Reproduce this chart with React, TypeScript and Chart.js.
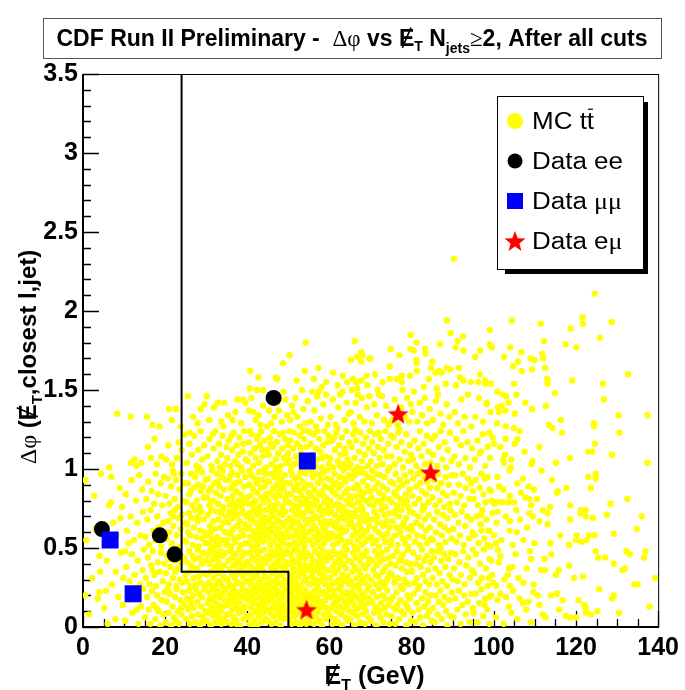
import React, { useEffect, useRef } from "react";
import { Chart, registerables } from "chart.js";

Chart.register(...registerables);

type Pt = [number, number];

// Simulated ttbar events: [missing ET (GeV), delta-phi], grouped in 10 GeV slices
const mcMet0to10: Pt[] = [
  [0.8,0.55],[0.6,0.93],[0.5,0.2],[1.5,0.08],[2.2,0.31],[3.1,0.62],[3.6,0.18],[4.0,0.45],[4.4,0.97],[2.7,0.83],[4.2,0.35],[4.0,0.22],
  [5.2,0.12],[5.8,0.42],[6.0,0.02],[6.3,0.57],[6.4,1.01],[6.8,0.79],[7.1,0.27],[7.4,0.66],[7.9,0.05],[8.0,0.35],[8.2,0.58],[8.3,1.35],
  [8.6,0.19],[8.9,0.88],[9.2,0.47],[9.5,0.76],[9.7,0.14],[9.8,0.31],[5.6,0.23],[7.7,0.52],[6.9,0.95],[9.1,0.69],[6.3,0.77]
];
const mcMet10to20: Pt[] = [
  [10.3,0.04],[11.2,0.17],[12.0,0.09],[12.8,0.22],[13.5,0.02],[14.1,0.13],[14.7,0.24],[10.9,0.2],[13.1,0.11],
  [10.5,0.38],[11.4,0.29],[11.9,0.46],[12.6,0.33],[13.3,0.42],[13.9,0.27],[14.5,0.36],[10.2,0.48],[14.8,0.49],
  [10.7,0.61],[11.6,0.7],[12.4,0.55],[13.2,0.66],[14.0,0.58],[14.6,0.73],[11.1,0.53],
  [10.4,0.84],[11.8,0.93],[12.9,0.8],[13.7,0.96],[14.4,0.87],
  [11.7,1.04],[12.5,1.06],[13.0,1.02],[14.2,1.04],[11.6,1.33],
  [15.1,0.06],[15.6,0.19],[16.0,0.11],[16.4,0.02],[16.8,0.23],[17.2,0.14],[17.6,0.05],[18.0,0.2],[18.4,0.1],[18.8,0.01],[19.2,0.17],[19.6,0.08],[19.9,0.22],[17.9,0.12],
  [15.3,0.31],[15.8,0.44],[16.2,0.27],[16.6,0.39],[17.0,0.48],[17.4,0.33],[17.8,0.26],[18.2,0.41],[18.6,0.35],[19.0,0.47],[19.4,0.29],[19.8,0.4],[16.9,0.36],
  [15.2,0.57],[15.7,0.68],[16.1,0.52],[16.5,0.74],[17.1,0.61],[17.5,0.55],[18.1,0.7],[18.5,0.63],[19.1,0.51],[19.5,0.66],[19.9,0.59],
  [15.4,0.81],[15.9,0.92],[16.7,0.86],[17.3,0.78],[17.7,0.97],[18.3,0.84],[18.9,0.91],[19.3,0.77],[19.7,0.95],
  [15.8,1.14],[16.6,1.07],[17.4,1.19],[19.1,1.08],[18.0,1.03],[15.6,1.33],[16.9,1.28],[18.6,1.27]
];
const mcMet20to30: Pt[] = [
  [20.1,0.03],[20.4,0.16],[20.8,0.09],[21.1,0.21],[21.5,0.01],[21.8,0.13],[22.1,0.06],[22.4,0.19],[22.8,0.24],[23.1,0.1],[23.4,0.02],[23.7,0.17],[24.0,0.08],[24.3,0.22],[24.7,0.14],[20.6,0.24],[22.6,0.04],[23.9,0.12],
  [20.2,0.34],[20.5,0.45],[20.9,0.27],[21.3,0.38],[21.6,0.49],[21.9,0.31],[22.3,0.42],[22.7,0.26],[23.0,0.37],[23.3,0.47],[23.6,0.3],[23.9,0.41],[24.2,0.28],[24.6,0.44],[24.9,0.33],[21.0,0.43],[22.5,0.35],
  [20.3,0.56],[20.7,0.67],[21.0,0.6],[21.4,0.72],[21.7,0.53],[22.0,0.64],[22.4,0.74],[22.8,0.58],[23.2,0.69],[23.5,0.51],[23.8,0.62],[24.1,0.71],[24.4,0.55],[24.8,0.66],[21.9,0.7],
  [20.1,0.83],[20.6,0.94],[21.0,0.78],[21.5,0.89],[21.9,0.99],[22.3,0.81],[22.7,0.93],[23.1,0.76],[23.5,0.87],[23.9,0.97],[24.3,0.8],[24.7,0.91],[22.1,0.97],
  [20.2,1.06],[20.8,1.15],[21.7,1.03],[22.9,1.07],[23.3,1.17],[24.0,1.12],[24.6,1.22],[21.0,1.38],[21.6,1.31],[22.6,1.38],[23.8,1.27],
  [25.1,0.05],[25.3,0.18],[25.6,0.11],[25.8,0.23],[26.0,0.02],[26.3,0.14],[26.5,0.07],[26.8,0.2],[27.0,0.12],[27.3,0.03],[27.5,0.24],[27.8,0.16],[28.0,0.08],[28.3,0.21],[28.5,0.01],[28.8,0.13],[29.0,0.19],[29.3,0.06],[29.5,0.24],[29.8,0.1],[26.1,0.17],[28.9,0.03],
  [25.2,0.29],[25.4,0.41],[25.7,0.35],[25.9,0.48],[26.2,0.26],[26.4,0.39],[26.7,0.45],[26.9,0.31],[27.2,0.43],[27.4,0.27],[27.7,0.37],[27.9,0.49],[28.2,0.32],[28.4,0.44],[28.7,0.28],[28.9,0.4],[29.2,0.47],[29.4,0.34],[29.7,0.26],[29.9,0.42],[27.0,0.36],
  [25.1,0.54],[25.4,0.65],[25.8,0.72],[26.1,0.58],[26.4,0.69],[26.7,0.52],[27.0,0.63],[27.3,0.74],[27.6,0.57],[27.9,0.67],[28.2,0.51],[28.5,0.61],[28.8,0.73],[29.1,0.56],[29.4,0.68],[29.7,0.6],[25.6,0.6],[28.0,0.7],[29.9,0.53],
  [25.2,0.79],[25.5,0.91],[25.9,0.84],[26.3,0.97],[26.6,0.77],[27.0,0.88],[27.3,0.95],[27.7,0.8],[28.0,0.9],[28.4,0.76],[28.7,0.86],[29.0,0.98],[29.4,0.82],[29.8,0.93],[26.2,0.86],[27.9,0.99],[29.2,0.89],
  [25.3,1.04],[25.9,1.16],[26.5,1.09],[27.1,1.21],[27.6,1.02],[28.1,1.12],[28.6,1.24],[29.0,1.06],[29.5,1.15],[26.0,1.23],[28.3,1.01],
  [25.5,1.46],[26.8,1.33],[27.9,1.29],[28.6,1.38],[29.6,1.41]
];
const mcMet30to40: Pt[] = [
  [30.1,0.04],[30.3,0.15],[30.5,0.22],[30.7,0.09],[30.9,0.18],[31.1,0.01],[31.3,0.12],[31.5,0.24],[31.7,0.07],[31.9,0.16],[32.1,0.2],[32.3,0.03],[32.5,0.11],[32.7,0.23],[32.9,0.14],[33.1,0.06],[33.3,0.19],[33.5,0.1],[33.7,0.02],[33.9,0.21],[34.1,0.13],[34.3,0.05],[34.5,0.17],[34.7,0.24],[34.9,0.08],[32.0,0.09],
  [30.2,0.33],[30.4,0.46],[30.6,0.28],[30.8,0.4],[31.0,0.49],[31.2,0.35],[31.4,0.26],[31.6,0.43],[31.8,0.31],[32.0,0.47],[32.2,0.38],[32.4,0.27],[32.6,0.44],[32.8,0.34],[33.0,0.41],[33.2,0.29],[33.4,0.48],[33.6,0.36],[33.8,0.26],[34.0,0.45],[34.2,0.32],[34.4,0.39],[34.6,0.47],[34.8,0.3],[33.1,0.37],
  [30.1,0.58],[30.4,0.71],[30.7,0.53],[30.9,0.64],[31.2,0.74],[31.4,0.56],[31.7,0.67],[31.9,0.51],[32.2,0.62],[32.5,0.73],[32.7,0.57],[33.0,0.68],[33.2,0.52],[33.5,0.63],[33.7,0.72],[34.0,0.55],[34.2,0.66],[34.5,0.6],[34.8,0.7],[31.0,0.6],[32.4,0.54],[33.9,0.74],[34.9,0.52],
  [30.2,0.82],[30.5,0.94],[30.8,0.77],[31.1,0.88],[31.4,0.99],[31.7,0.8],[32.0,0.91],[32.3,0.85],[32.6,0.97],[32.9,0.78],[33.2,0.89],[33.5,0.83],[33.8,0.95],[34.1,0.76],[34.4,0.87],[34.7,0.93],[31.2,0.79],[32.8,0.92],[34.0,0.99],[30.6,0.86],
  [30.3,1.08],[30.8,1.19],[31.3,1.02],[31.8,1.13],[32.2,1.24],[32.7,1.05],[33.1,1.16],[33.6,1.09],[34.0,1.21],[34.5,1.03],[34.9,1.14],[31.6,1.22],[33.3,1.01],
  [30.1,1.46],[30.7,1.31],[31.9,1.39],[32.8,1.42],[33.7,1.3],[34.4,1.42],[34.2,1.27],
  [35.1,0.03],[35.3,0.14],[35.5,0.21],[35.7,0.08],[35.9,0.17],[36.1,0.02],[36.3,0.11],[36.5,0.23],[36.7,0.06],[36.9,0.15],[37.1,0.19],[37.3,0.04],[37.5,0.12],[37.7,0.22],[37.9,0.09],[38.1,0.16],[38.3,0.01],[38.5,0.2],[38.7,0.1],[38.9,0.24],[39.1,0.05],[39.3,0.13],[39.5,0.18],[39.7,0.07],[39.9,0.22],[36.0,0.19],[37.6,0.01],[39.0,0.12],
  [35.2,0.3],[35.4,0.42],[35.6,0.27],[35.8,0.37],[36.0,0.48],[36.2,0.33],[36.4,0.44],[36.6,0.26],[36.8,0.39],[37.0,0.31],[37.2,0.46],[37.4,0.35],[37.6,0.28],[37.8,0.42],[38.0,0.49],[38.2,0.34],[38.4,0.4],[38.6,0.27],[38.8,0.45],[39.0,0.32],[39.2,0.38],[39.4,0.47],[39.6,0.29],[39.8,0.41],[35.9,0.26],[37.1,0.4],[38.3,0.36],[39.5,0.34],
  [35.1,0.55],[35.4,0.66],[35.6,0.73],[35.9,0.59],[36.1,0.51],[36.4,0.69],[36.6,0.62],[36.9,0.74],[37.1,0.54],[37.4,0.64],[37.6,0.71],[37.9,0.57],[38.1,0.67],[38.4,0.52],[38.6,0.61],[38.9,0.72],[39.1,0.58],[39.4,0.65],[39.6,0.53],[39.9,0.7],[35.3,0.6],[36.8,0.56],[37.7,0.64],[38.7,0.74],[39.7,0.62],[36.2,0.72],
  [35.2,0.81],[35.5,0.93],[35.7,0.77],[36.0,0.88],[36.3,0.98],[36.5,0.83],[36.8,0.9],[37.1,0.76],[37.3,0.86],[37.6,0.96],[37.9,0.8],[38.1,0.92],[38.4,0.84],[38.7,0.99],[38.9,0.78],[39.2,0.89],[39.5,0.95],[39.8,0.82],[35.9,0.96],[37.0,0.91],[38.2,0.77],[39.3,0.81],[36.6,0.79],
  [35.1,1.07],[35.5,1.18],[35.9,1.02],[36.3,1.12],[36.7,1.23],[37.0,1.05],[37.4,1.15],[37.8,1.09],[38.1,1.2],[38.5,1.01],[38.9,1.11],[39.2,1.24],[39.6,1.06],[36.1,1.21],[37.6,1.03],[39.0,1.16],
  [35.3,1.34],[36.4,1.31],[37.1,1.36],[37.6,1.44],[38.5,1.29],[39.0,1.44],[39.5,1.42]
];
const mcMet40to50: Pt[] = [
  [40.1,0.06],[40.3,0.17],[40.4,0.23],[40.6,0.02],[40.8,0.12],[41.0,0.2],[41.1,0.08],[41.3,0.15],[41.5,0.24],[41.7,0.04],[41.9,0.18],[42.0,0.1],[42.2,0.22],[42.4,0.01],[42.6,0.14],[42.8,0.07],[43.0,0.19],[43.1,0.11],[43.3,0.24],[43.5,0.03],[43.7,0.16],[43.9,0.09],[44.1,0.21],[44.2,0.13],[44.4,0.05],[44.6,0.18],[44.8,0.11],[44.9,0.23],[41.4,0.01],[43.6,0.14],
  [40.2,0.29],[40.3,0.41],[40.5,0.35],[40.7,0.47],[40.9,0.27],[41.0,0.38],[41.2,0.44],[41.4,0.31],[41.6,0.49],[41.8,0.36],[41.9,0.26],[42.1,0.42],[42.3,0.33],[42.5,0.46],[42.7,0.28],[42.9,0.39],[43.0,0.48],[43.2,0.3],[43.4,0.37],[43.6,0.43],[43.8,0.26],[44.0,0.35],[44.1,0.49],[44.3,0.32],[44.5,0.41],[44.7,0.27],[44.9,0.45],[41.1,0.32],[42.6,0.37],[43.9,0.4],
  [40.1,0.53],[40.3,0.64],[40.5,0.72],[40.7,0.57],[40.9,0.68],[41.1,0.51],[41.3,0.61],[41.5,0.74],[41.7,0.55],[41.9,0.66],[42.1,0.59],[42.3,0.71],[42.5,0.52],[42.7,0.63],[42.9,0.73],[43.1,0.56],[43.3,0.67],[43.5,0.6],[43.7,0.7],[43.9,0.54],[44.1,0.65],[44.3,0.74],[44.5,0.58],[44.7,0.69],[44.9,0.62],[41.0,0.69],[42.4,0.56],[43.8,0.63],
  [40.2,0.78],[40.4,0.9],[40.7,0.83],[40.9,0.96],[41.2,0.77],[41.4,0.87],[41.7,0.94],[41.9,0.8],[42.2,0.91],[42.4,0.85],[42.7,0.98],[42.9,0.76],[43.2,0.88],[43.4,0.82],[43.7,0.93],[43.9,0.79],[44.2,0.89],[44.4,0.97],[44.7,0.81],[44.9,0.92],[40.5,0.99],[41.6,0.79],[42.5,0.93],[43.5,0.99],[44.5,0.84],
  [40.1,1.05],[40.4,1.17],[40.8,1.1],[41.1,1.22],[41.4,1.02],[41.8,1.13],[42.1,1.07],[42.4,1.19],[42.8,1.04],[43.1,1.15],[43.4,1.24],[43.8,1.08],[44.1,1.18],[44.5,1.01],[44.8,1.12],[40.6,1.24],[42.6,1.21],[43.6,1.12],
  [40.4,1.37],[41.5,1.36],[42.7,1.34],[43.2,1.28],[44.8,1.27],[41.0,1.45],[43.8,1.4],[42.0,1.31],
  [40.6,1.51],[40.7,1.62],[42.3,1.5],[42.7,1.58],[43.8,1.5],
  [45.1,0.04],[45.2,0.16],[45.4,0.22],[45.6,0.09],[45.8,0.18],[45.9,0.02],[46.1,0.12],[46.3,0.24],[46.5,0.07],[46.7,0.15],[46.8,0.2],[47.0,0.03],[47.2,0.11],[47.4,0.23],[47.6,0.08],[47.7,0.17],[47.9,0.13],[48.1,0.01],[48.3,0.21],[48.5,0.1],[48.6,0.19],[48.8,0.05],[49.0,0.14],[49.2,0.24],[49.4,0.07],[49.5,0.18],[49.7,0.11],[49.9,0.22],[46.0,0.2],[48.2,0.06],
  [45.1,0.31],[45.3,0.43],[45.5,0.27],[45.7,0.38],[45.9,0.48],[46.0,0.34],[46.2,0.45],[46.4,0.29],[46.6,0.4],[46.8,0.26],[47.0,0.36],[47.1,0.47],[47.3,0.32],[47.5,0.42],[47.7,0.28],[47.9,0.39],[48.1,0.49],[48.2,0.33],[48.4,0.44],[48.6,0.26],[48.8,0.37],[49.0,0.46],[49.1,0.3],[49.3,0.41],[49.5,0.35],[49.7,0.48],[49.9,0.28],[46.5,0.35],[47.8,0.45],[49.2,0.38],
  [45.2,0.56],[45.4,0.67],[45.6,0.52],[45.8,0.73],[46.0,0.6],[46.2,0.7],[46.4,0.54],[46.6,0.65],[46.8,0.74],[47.0,0.58],[47.2,0.68],[47.4,0.51],[47.6,0.62],[47.8,0.72],[48.0,0.55],[48.2,0.66],[48.4,0.59],[48.6,0.71],[48.8,0.53],[49.0,0.64],[49.2,0.73],[49.4,0.57],[49.6,0.67],[49.8,0.61],[45.9,0.63],[47.3,0.57],[48.5,0.74],[49.9,0.52],
  [45.1,0.8],[45.3,0.92],[45.6,0.85],[45.8,0.97],[46.1,0.77],[46.3,0.88],[46.6,0.95],[46.8,0.82],[47.1,0.9],[47.3,0.78],[47.6,0.86],[47.8,0.98],[48.1,0.83],[48.3,0.93],[48.6,0.76],[48.8,0.87],[49.1,0.96],[49.3,0.81],[49.6,0.91],[49.8,0.84],[45.5,0.76],[46.9,0.99],[47.5,0.94],[48.4,0.89],[49.4,0.79],[46.4,0.83],
  [45.2,1.09],[45.5,1.2],[45.9,1.03],[46.2,1.14],[46.5,1.24],[46.9,1.06],[47.2,1.17],[47.5,1.1],[47.9,1.22],[48.2,1.02],[48.5,1.13],[48.9,1.07],[49.2,1.19],[49.5,1.04],[49.8,1.15],[45.7,1.16],[47.0,1.01],[48.7,1.23],[49.9,1.1],
  [45.3,1.37],[45.8,1.29],[46.6,1.33],[47.3,1.42],[47.7,1.37],[48.4,1.3],[48.8,1.49],[49.3,1.44],[49.7,1.34],
  [47.0,1.58],[48.7,1.67],[47.2,1.57]
];
const mcMet50to60: Pt[] = [
  [50.1,0.05],[50.3,0.17],[50.4,0.23],[50.6,0.1],[50.8,0.02],[51.0,0.14],[51.1,0.2],[51.3,0.07],[51.5,0.16],[51.7,0.24],[51.9,0.03],[52.0,0.12],[52.2,0.19],[52.4,0.08],[52.6,0.22],[52.8,0.01],[53.0,0.15],[53.1,0.11],[53.3,0.21],[53.5,0.04],[53.7,0.18],[53.9,0.09],[54.1,0.23],[54.2,0.13],[54.4,0.02],[54.6,0.17],[54.8,0.2],[54.9,0.06],[51.6,0.1],[53.4,0.14],
  [50.2,0.28],[50.3,0.4],[50.5,0.46],[50.7,0.33],[50.9,0.26],[51.0,0.43],[51.2,0.37],[51.4,0.49],[51.6,0.3],[51.8,0.41],[51.9,0.27],[52.1,0.35],[52.3,0.47],[52.5,0.32],[52.7,0.44],[52.9,0.38],[53.0,0.26],[53.2,0.45],[53.4,0.34],[53.6,0.48],[53.8,0.29],[54.0,0.39],[54.1,0.43],[54.3,0.31],[54.5,0.47],[54.7,0.36],[54.9,0.27],[51.1,0.3],[52.6,0.4],[53.9,0.35],
  [50.1,0.57],[50.3,0.69],[50.5,0.52],[50.7,0.63],[50.9,0.74],[51.1,0.58],[51.3,0.67],[51.5,0.54],[51.7,0.71],[51.9,0.61],[52.1,0.51],[52.3,0.66],[52.5,0.73],[52.7,0.56],[52.9,0.64],[53.1,0.7],[53.3,0.53],[53.5,0.62],[53.7,0.72],[53.9,0.59],[54.1,0.68],[54.3,0.55],[54.5,0.65],[54.7,0.74],[54.9,0.6],[51.0,0.65],[52.2,0.59],[53.6,0.57],[54.0,0.51],
  [50.2,0.79],[50.4,0.91],[50.7,0.84],[50.9,0.96],[51.2,0.77],[51.4,0.88],[51.7,0.94],[51.9,0.81],[52.2,0.9],[52.4,0.76],[52.7,0.86],[52.9,0.98],[53.2,0.83],[53.4,0.92],[53.7,0.78],[53.9,0.88],[54.2,0.97],[54.4,0.81],[54.7,0.9],[54.9,0.85],[50.6,0.99],[51.8,0.87],[52.5,0.95],[53.0,0.79],[53.6,0.99],[54.5,0.77],
  [50.1,1.06],[50.5,1.18],[50.8,1.02],[51.1,1.13],[51.4,1.23],[51.8,1.08],[52.1,1.16],[52.4,1.04],[52.8,1.21],[53.1,1.1],[53.4,1.01],[53.8,1.19],[54.1,1.07],[54.4,1.14],[54.8,1.24],[50.3,1.24],[51.6,1.03],[52.9,1.14],[53.6,1.24],[54.6,1.02],
  [50.4,1.31],[50.9,1.4],[51.7,1.45],[52.2,1.33],[52.8,1.27],[53.3,1.5],[53.6,1.38],[54.2,1.29],[54.7,1.43],[51.3,1.36],
  [50.3,1.72],[52.0,1.56],[54.0,1.62],[54.2,1.8],
  [55.1,0.03],[55.3,0.15],[55.5,0.21],[55.6,0.08],[55.8,0.18],[56.0,0.11],[56.2,0.02],[56.4,0.23],[56.6,0.13],[56.7,0.06],[56.9,0.19],[57.1,0.1],[57.3,0.24],[57.5,0.04],[57.6,0.16],[57.8,0.12],[58.0,0.21],[58.2,0.01],[58.4,0.14],[58.6,0.08],[58.7,0.22],[58.9,0.17],[59.1,0.05],[59.3,0.12],[59.5,0.2],[59.7,0.09],[59.9,0.24],[57.0,0.16],
  [55.2,0.27],[55.4,0.39],[55.5,0.45],[55.7,0.32],[55.9,0.42],[56.1,0.28],[56.3,0.36],[56.5,0.48],[56.7,0.3],[56.8,0.41],[57.0,0.26],[57.2,0.38],[57.4,0.46],[57.6,0.34],[57.8,0.43],[57.9,0.29],[58.1,0.4],[58.3,0.49],[58.5,0.33],[58.7,0.37],[58.9,0.45],[59.0,0.27],[59.2,0.42],[59.4,0.31],[59.6,0.47],[59.8,0.36],[56.0,0.35],[58.0,0.3],
  [55.1,0.55],[55.3,0.68],[55.5,0.61],[55.7,0.73],[55.9,0.52],[56.1,0.64],[56.3,0.57],[56.5,0.7],[56.7,0.62],[56.9,0.54],[57.1,0.69],[57.3,0.6],[57.5,0.74],[57.7,0.51],[57.9,0.66],[58.1,0.58],[58.3,0.71],[58.5,0.63],[58.7,0.53],[58.9,0.67],[59.1,0.74],[59.3,0.56],[59.5,0.65],[59.7,0.59],[59.9,0.72],[56.0,0.68],[57.6,0.56],[59.0,0.61],
  [55.2,0.78],[55.4,0.9],[55.7,0.83],[55.9,0.95],[56.2,0.77],[56.4,0.87],[56.7,0.97],[56.9,0.8],[57.2,0.91],[57.4,0.84],[57.7,0.76],[57.9,0.93],[58.2,0.86],[58.4,0.98],[58.7,0.79],[58.9,0.89],[59.2,0.82],[59.4,0.94],[59.7,0.77],[59.9,0.88],[55.5,0.99],[56.6,0.8],[57.5,0.96],[58.5,0.83],[59.5,0.99],
  [55.1,1.04],[55.5,1.16],[55.8,1.09],[56.1,1.22],[56.5,1.02],[56.8,1.13],[57.1,1.06],[57.5,1.19],[57.8,1.11],[58.1,1.01],[58.5,1.15],[58.8,1.24],[59.1,1.08],[59.5,1.17],[59.8,1.03],[55.3,1.23],[57.0,1.24],[58.3,1.07],[59.7,1.21],
  [55.4,1.3],[55.8,1.49],[56.3,1.37],[57.0,1.46],[57.4,1.49],[57.9,1.32],[58.5,1.41],[59.2,1.47],[59.6,1.28],[56.7,1.27],
  [57.3,1.64],[59.2,1.55],[58.1,1.52],[56.2,1.57]
];
const mcMet60to70: Pt[] = [
  [60.1,0.07],[60.3,0.19],[60.5,0.12],[60.7,0.02],[60.9,0.23],[61.1,0.15],[61.3,0.05],[61.5,0.2],[61.7,0.1],[61.9,0.17],[62.1,0.03],[62.3,0.24],[62.5,0.13],[62.7,0.08],[62.9,0.18],[63.1,0.01],[63.3,0.21],[63.5,0.11],[63.7,0.16],[63.9,0.06],[64.1,0.22],[64.3,0.14],[64.5,0.04],[64.7,0.19],[64.9,0.1],[62.0,0.13],
  [60.2,0.31],[60.4,0.44],[60.6,0.27],[60.8,0.38],[61.0,0.48],[61.2,0.34],[61.4,0.41],[61.6,0.28],[61.8,0.46],[62.0,0.36],[62.2,0.3],[62.4,0.43],[62.6,0.39],[62.8,0.26],[63.0,0.47],[63.2,0.33],[63.4,0.4],[63.6,0.29],[63.8,0.45],[64.0,0.37],[64.2,0.49],[64.4,0.32],[64.6,0.42],[64.8,0.27],[61.5,0.35],[63.9,0.31],
  [60.1,0.56],[60.3,0.67],[60.5,0.73],[60.7,0.59],[60.9,0.52],[61.1,0.64],[61.3,0.71],[61.5,0.57],[61.7,0.66],[61.9,0.53],[62.1,0.62],[62.3,0.74],[62.5,0.58],[62.7,0.69],[62.9,0.55],[63.1,0.63],[63.3,0.72],[63.5,0.6],[63.7,0.51],[63.9,0.68],[64.1,0.61],[64.3,0.73],[64.5,0.54],[64.7,0.65],[64.9,0.7],[62.0,0.67],
  [60.2,0.8],[60.4,0.93],[60.7,0.86],[60.9,0.77],[61.2,0.97],[61.4,0.84],[61.7,0.91],[61.9,0.78],[62.2,0.88],[62.4,0.95],[62.7,0.82],[62.9,0.9],[63.2,0.76],[63.4,0.99],[63.7,0.85],[63.9,0.92],[64.2,0.8],[64.4,0.87],[64.7,0.96],[64.9,0.83],[61.0,0.9],[62.5,0.77],[63.6,0.94],[64.6,0.78],
  [60.2,1.07],[60.6,1.18],[60.9,1.01],[61.3,1.12],[61.6,1.23],[62.0,1.05],[62.3,1.15],[62.7,1.09],[63.0,1.2],[63.4,1.03],[63.7,1.13],[64.1,1.24],[64.4,1.06],[64.8,1.17],[61.1,1.2],[62.5,1.02],[63.9,1.1],[64.6,1.01],
  [60.3,1.33],[60.8,1.44],[61.5,1.28],[62.1,1.39],[62.6,1.47],[63.2,1.49],[63.6,1.31],[64.2,1.42],[64.7,1.35],[61.9,1.26],
  [60.9,1.61],[63.2,1.59],[62.0,1.53],[64.3,1.55],
  [65.1,0.05],[65.3,0.17],[65.5,0.22],[65.7,0.09],[65.9,0.14],[66.1,0.01],[66.3,0.2],[66.5,0.11],[66.7,0.07],[66.9,0.18],[67.1,0.24],[67.3,0.12],[67.5,0.03],[67.7,0.16],[67.9,0.21],[68.1,0.08],[68.3,0.13],[68.5,0.19],[68.7,0.02],[68.9,0.1],[69.1,0.23],[69.3,0.15],[69.5,0.06],[69.8,0.18],
  [65.2,0.29],[65.4,0.41],[65.6,0.35],[65.8,0.47],[66.0,0.26],[66.2,0.38],[66.4,0.44],[66.6,0.31],[66.8,0.49],[67.0,0.36],[67.2,0.27],[67.4,0.42],[67.6,0.33],[67.8,0.46],[68.0,0.3],[68.2,0.39],[68.4,0.45],[68.6,0.28],[68.8,0.37],[69.0,0.48],[69.2,0.32],[69.4,0.4],[69.6,0.26],[69.8,0.43],
  [65.1,0.54],[65.3,0.66],[65.5,0.72],[65.7,0.58],[65.9,0.63],[66.1,0.51],[66.3,0.7],[66.5,0.6],[66.7,0.74],[66.9,0.55],[67.1,0.65],[67.3,0.57],[67.5,0.69],[67.7,0.62],[67.9,0.52],[68.1,0.73],[68.3,0.59],[68.5,0.67],[68.7,0.54],[68.9,0.71],[69.1,0.61],[69.3,0.56],[69.5,0.68],[69.7,0.64],
  [65.2,0.81],[65.4,0.94],[65.7,0.77],[65.9,0.88],[66.2,0.96],[66.4,0.83],[66.7,0.9],[66.9,0.79],[67.2,0.87],[67.4,0.98],[67.7,0.84],[67.9,0.76],[68.2,0.92],[68.4,0.85],[68.7,0.97],[68.9,0.8],[69.2,0.89],[69.4,0.95],[69.7,0.78],[69.9,0.86],[66.0,0.99],[68.0,0.81],
  [65.1,1.03],[65.4,1.14],[65.8,1.22],[66.1,1.07],[66.5,1.18],[66.8,1.01],[67.2,1.11],[67.5,1.23],[67.9,1.05],[68.2,1.16],[68.6,1.09],[68.9,1.2],[69.3,1.02],[69.6,1.13],[69.9,1.24],[66.3,1.25],[68.0,1.0],
  [65.2,1.36],[65.4,1.5],[65.9,1.29],[66.4,1.42],[66.9,1.47],[67.4,1.33],[67.9,1.45],[68.5,1.3],[69.1,1.39],[69.7,1.46],
  [65.2,1.69],[65.7,1.57],[66.5,1.55],[66.7,1.51],[66.7,1.71],[67.7,1.74],[68.0,1.72],[67.7,1.68],[69.7,1.7],[67.8,1.56],[69.0,1.59],[69.2,1.53],[66.1,1.81]
];
const mcMet70to80: Pt[] = [
  [70.1,0.04],[70.4,0.16],[70.6,0.22],[70.9,0.09],[71.1,0.13],[71.4,0.01],[71.6,0.19],[71.9,0.11],[72.1,0.24],[72.4,0.06],[72.6,0.15],[72.9,0.2],[73.1,0.03],[73.4,0.12],[73.6,0.18],[73.9,0.08],[74.1,0.23],[74.4,0.14],[74.6,0.02],[74.9,0.17],[72.2,0.1],
  [70.2,0.3],[70.5,0.42],[70.7,0.36],[71.0,0.48],[71.2,0.27],[71.5,0.39],[71.7,0.45],[72.0,0.32],[72.2,0.41],[72.5,0.28],[72.7,0.47],[73.0,0.35],[73.2,0.43],[73.5,0.26],[73.7,0.38],[74.0,0.49],[74.2,0.31],[74.5,0.44],[74.7,0.34],[74.9,0.4],[71.3,0.33],[73.8,0.29],
  [70.1,0.57],[70.4,0.68],[70.6,0.53],[70.9,0.73],[71.1,0.62],[71.4,0.55],[71.6,0.7],[71.9,0.6],[72.1,0.51],[72.4,0.66],[72.6,0.74],[72.9,0.58],[73.1,0.64],[73.4,0.71],[73.6,0.54],[73.9,0.67],[74.1,0.59],[74.4,0.72],[74.6,0.63],[74.9,0.52],[71.8,0.66],[73.3,0.56],
  [70.2,0.82],[70.5,0.94],[70.8,0.77],[71.0,0.88],[71.3,0.97],[71.6,0.8],[71.8,0.91],[72.1,0.85],[72.4,0.96],[72.6,0.78],[72.9,0.89],[73.2,0.83],[73.4,0.95],[73.7,0.76],[74.0,0.87],[74.2,0.99],[74.5,0.81],[74.8,0.92],[70.4,0.99],[72.8,0.8],
  [70.1,1.05],[70.4,1.17],[70.8,1.1],[71.1,1.22],[71.5,1.02],[71.8,1.14],[72.2,1.07],[72.5,1.19],[72.9,1.03],[73.2,1.12],[73.6,1.24],[73.9,1.08],[74.3,1.16],[74.6,1.01],[74.9,1.21],[72.0,1.23],
  [70.3,1.29],[70.9,1.41],[71.5,1.34],[72.1,1.47],[72.8,1.46],[73.3,1.31],[73.8,1.4],[74.4,1.28],[71.7,1.5],
  [70.0,1.7],[71.1,1.6],[74.7,1.65],[74.7,1.57],[72.9,1.55],[74.9,1.76],
  [75.1,0.07],[75.4,0.19],[75.7,0.12],[76.0,0.02],[76.3,0.22],[76.6,0.14],[76.9,0.05],[77.2,0.17],[77.5,0.1],[77.8,0.24],[78.1,0.08],[78.4,0.15],[78.7,0.01],[79.0,0.2],[79.3,0.11],[79.6,0.18],[79.9,0.04],[76.1,0.11],[78.9,0.13],
  [75.2,0.33],[75.5,0.45],[75.8,0.28],[76.1,0.39],[76.4,0.48],[76.7,0.31],[77.0,0.42],[77.3,0.26],[77.6,0.37],[77.9,0.46],[78.2,0.3],[78.5,0.41],[78.8,0.35],[79.1,0.49],[79.4,0.27],[79.7,0.4],[76.0,0.3],[77.4,0.44],[78.6,0.28],[79.9,0.36],
  [75.1,0.55],[75.4,0.67],[75.7,0.72],[76.0,0.58],[76.3,0.63],[76.6,0.52],[76.9,0.7],[77.2,0.6],[77.5,0.74],[77.8,0.56],[78.1,0.66],[78.4,0.53],[78.7,0.69],[79.0,0.62],[79.3,0.57],[79.6,0.73],[79.9,0.64],[76.2,0.74],[77.7,0.64],[79.1,0.51],
  [75.2,0.79],[75.5,0.91],[75.8,0.85],[76.1,0.97],[76.5,0.77],[76.8,0.88],[77.1,0.93],[77.4,0.81],[77.7,0.9],[78.0,0.78],[78.3,0.96],[78.6,0.84],[78.9,0.92],[79.2,0.76],[79.5,0.87],[79.8,0.98],[76.3,0.83],[78.8,0.8],
  [75.1,1.08],[75.5,1.2],[75.9,1.03],[76.3,1.14],[76.7,1.23],[77.1,1.06],[77.5,1.17],[77.9,1.01],[78.3,1.11],[78.7,1.22],[79.1,1.05],[79.5,1.15],[79.9,1.09],[77.0,1.25],
  [75.3,1.31],[75.9,1.44],[76.6,1.28],[77.4,1.39],[77.8,1.5],[78.3,1.33],[78.9,1.45],[79.4,1.3],[79.8,1.41],
  [76.4,1.57],[77.0,1.72],[77.6,1.55],[77.6,1.59],[79.6,1.59],[79.7,1.76],[79.8,1.85]
];
const mcMet80to90: Pt[] = [
  [80.2,0.09],[80.5,0.21],[80.9,0.03],[81.2,0.15],[81.5,0.24],[81.8,0.11],[82.1,0.06],[82.5,0.18],[82.8,0.01],[83.1,0.13],[83.4,0.22],[83.7,0.07],[84.0,0.16],[84.3,0.1],[84.6,0.2],[84.9,0.04],
  [80.1,0.35],[80.4,0.47],[80.7,0.28],[81.0,0.4],[81.3,0.31],[81.6,0.44],[81.9,0.26],[82.2,0.38],[82.5,0.49],[82.8,0.33],[83.1,0.42],[83.4,0.29],[83.7,0.45],[84.0,0.36],[84.3,0.27],[84.6,0.41],[84.9,0.48],
  [80.2,0.61],[80.5,0.72],[80.8,0.54],[81.1,0.66],[81.4,0.58],[81.7,0.7],[82.0,0.52],[82.3,0.64],[82.6,0.74],[82.9,0.57],[83.2,0.68],[83.5,0.61],[83.8,0.53],[84.1,0.71],[84.4,0.63],[84.7,0.56],[83.0,0.75],
  [80.1,0.83],[80.4,0.94],[80.8,0.78],[81.1,0.89],[81.5,0.97],[81.8,0.81],[82.1,0.91],[82.5,0.86],[82.8,0.77],[83.1,0.95],[83.5,0.84],[83.8,0.92],[84.1,0.79],[84.5,0.88],[84.8,0.96],[82.3,0.99],
  [80.3,1.06],[80.7,1.18],[81.1,1.02],[81.6,1.13],[82.0,1.24],[82.4,1.08],[82.9,1.16],[83.3,1.03],[83.7,1.21],[84.1,1.11],[84.6,1.04],[84.9,1.19],
  [80.2,1.36],[80.5,1.49],[81.4,1.3],[82.0,1.42],[82.6,1.34],[83.2,1.45],[83.8,1.29],[84.4,1.38],
  [81.1,1.69],[81.2,1.67],[81.3,1.62],[83.0,1.52],[84.7,1.64],[84.2,1.57],[83.4,1.73],[80.5,1.75],[81.2,1.8],[83.3,1.76],
  [85.2,0.12],[85.6,0.03],[85.9,0.2],[86.3,0.08],[86.6,0.16],[87.0,0.23],[87.3,0.05],[87.7,0.14],[88.0,0.19],[88.4,0.1],[88.7,0.01],[89.1,0.17],[89.4,0.07],[89.8,0.22],
  [85.1,0.31],[85.4,0.44],[85.8,0.37],[86.1,0.27],[86.5,0.48],[86.8,0.34],[87.2,0.42],[87.5,0.29],[87.9,0.46],[88.2,0.38],[88.6,0.26],[88.9,0.43],[89.3,0.33],[89.6,0.47],[89.9,0.3],
  [85.2,0.55],[85.5,0.68],[85.9,0.6],[86.2,0.73],[86.6,0.52],[86.9,0.65],[87.3,0.58],[87.6,0.71],[88.0,0.63],[88.3,0.54],[88.7,0.69],[89.0,0.61],[89.4,0.74],[89.7,0.56],[87.1,0.5],
  [85.1,0.82],[85.5,0.93],[85.8,0.77],[86.2,0.88],[86.5,0.97],[86.9,0.8],[87.2,0.91],[87.6,0.85],[87.9,0.76],[88.3,0.95],[88.6,0.83],[89.0,0.9],[89.3,0.78],[89.7,0.96],
  [85.3,1.09],[85.7,1.21],[86.2,1.02],[86.6,1.14],[87.1,1.24],[87.5,1.06],[88.0,1.17],[88.4,1.01],[88.8,1.12],[89.3,1.23],[89.7,1.05],
  [85.2,1.31],[85.9,1.43],[86.4,1.47],[87.0,1.35],[87.7,1.28],[88.5,1.41],[89.2,1.33],
  [85.0,1.68],[85.8,1.61],[86.1,1.51],[86.7,1.62],[87.3,1.61],[88.6,1.64],[89.4,1.63],[88.3,1.54],[86.9,1.79],[88.6,1.94],[89.5,1.86]
];
const mcMet90to100: Pt[] = [
  [90.2,0.06],[90.6,0.18],[91.1,0.11],[91.5,0.23],[91.9,0.02],[92.3,0.14],[92.8,0.2],[93.2,0.08],[93.6,0.16],[94.1,0.03],[94.5,0.21],[94.9,0.12],
  [90.3,0.37],[90.7,0.46],[91.2,0.29],[91.6,0.41],[92.0,0.33],[92.5,0.48],[92.9,0.27],[93.3,0.39],[93.8,0.44],[94.2,0.31],[94.6,0.36],[94.9,0.49],
  [90.1,0.62],[90.5,0.71],[90.9,0.54],[91.4,0.66],[91.8,0.58],[92.2,0.73],[92.7,0.52],[93.1,0.64],[93.5,0.7],[94.0,0.56],[94.4,0.68],[94.8,0.6],
  [90.2,0.85],[90.6,0.96],[91.0,0.79],[91.5,0.9],[91.9,0.83],[92.4,0.97],[92.8,0.77],[93.2,0.88],[93.7,0.94],[94.1,0.81],[94.5,0.91],[94.9,0.86],
  [90.4,1.08],[90.9,1.19],[91.5,1.03],[92.0,1.15],[92.6,1.24],[93.1,1.07],[93.6,1.17],[94.2,1.01],[94.7,1.13],
  [90.5,1.36],[91.3,1.29],[92.1,1.44],[92.9,1.33],[93.7,1.47],[94.5,1.27],
  [90.8,1.53],[91.5,1.64],[91.8,1.58],[92.6,1.56],[94.4,1.55],[92.6,1.75],[92.5,1.84],[91.2,1.81],[90.7,1.77],[90.3,2.33],
  [95.1,0.09],[95.6,0.21],[96.0,0.03],[96.5,0.15],[97.0,0.24],[97.4,0.07],[97.9,0.18],[98.4,0.11],[98.9,0.02],[99.4,0.2],[97.8,0.14],[98.9,0.19],
  [95.2,0.34],[95.7,0.46],[96.2,0.28],[96.6,0.4],[97.1,0.31],[97.6,0.49],[98.1,0.37],[98.5,0.26],[99.0,0.43],[99.6,0.33],[98.8,0.31],[99.9,0.28],[99.4,0.42],
  [95.3,0.58],[95.8,0.7],[96.3,0.53],[96.8,0.65],[97.2,0.74],[97.7,0.56],[98.2,0.68],[98.7,0.61],[99.1,0.51],[99.7,0.72],[97.0,0.61],[98.9,0.61],[98.5,0.52],
  [95.1,0.81],[95.6,0.93],[96.1,0.77],[96.6,0.88],[97.0,0.97],[97.5,0.84],[98.0,0.79],[98.5,0.95],[99.0,0.87],[99.5,0.8],[96.9,0.71],[97.8,0.94],[99.3,0.86],
  [95.4,1.06],[96.0,1.18],[96.6,1.1],[97.3,1.22],[97.9,1.02],[98.5,1.14],[99.1,1.07],[99.7,1.2],[96.9,1.11],[98.9,1.23],
  [95.5,1.33],[96.4,1.45],[97.4,1.3],[98.3,1.41],[99.2,1.36],[98.2,1.42],
  [96.6,1.6],[96.2,1.55],[97.9,1.56],[98.0,1.54],[99.3,1.54],[95.5,1.71],[96.7,1.75],[99.0,1.88],[99.0,1.79],[99.5,1.77]
];
const mcMet100to110: Pt[] = [
  [100.5,0.06],[100.9,0.17],[101.6,0.21],[102.4,0.02],[103.0,0.19],[103.7,0.13],[104.3,0.09],[104.7,0.23],[105.7,0.05],[106.3,0.18],[107.1,0.15],[107.9,0.11],[108.4,0.16],[109.0,0.03],[109.6,0.22],
  [100.6,0.26],[101.2,0.41],[101.0,0.49],[101.6,0.45],[102.6,0.3],[103.4,0.33],[103.7,0.37],[103.9,0.26],[104.5,0.38],[105.3,0.46],[106.0,0.31],[107.2,0.28],[108.0,0.37],[108.8,0.48],[109.1,0.43],[109.7,0.27],
  [100.0,0.58],[100.5,0.53],[100.7,0.66],[100.9,0.73],[101.8,0.55],[102.9,0.7],[103.9,0.67],[103.9,0.61],[104.6,0.52],[105.5,0.74],[105.6,0.6],[106.4,0.68],[107.2,0.55],[108.1,0.63],[108.7,0.72],[109.5,0.7],[109.9,0.53],
  [100.1,0.78],[100.8,0.79],[100.9,0.95],[101.3,0.89],[102.1,0.79],[102.3,0.87],[103.5,0.79],[103.8,0.99],[103.9,0.83],[104.9,0.79],[105.8,0.91],[106.6,0.85],[107.1,0.94],[107.7,0.82],[108.5,0.89],[108.7,0.81],[109.1,0.77],[109.8,0.87],
  [100.0,1.16],[101.6,1.14],[102.3,1.06],[102.5,1.04],[102.7,1.09],[102.9,1.19],[104.1,1.01],[104.2,1.06],[105.1,1.16],[105.7,1.19],[106.3,1.24],[107.5,1.11],[109.2,1.03],[109.4,1.05],
  [100.8,1.29],[101.0,1.39],[101.2,1.36],[101.9,1.4],[102.8,1.37],[102.9,1.27],[103.6,1.42],[104.9,1.26],[105.1,1.35],[107.7,1.42],[109.3,1.38],[100.9,1.49],[102.1,1.47],[103.0,1.46],[105.5,1.47],
  [102.5,1.71],[104.0,1.77],[104.4,1.94],[104.7,1.65],[104.9,1.54],[105.9,1.68],[106.7,1.74],[106.8,1.62],[108.9,1.7],[109.9,1.69],[109.3,1.63]
];
const mcMet110to120: Pt[] = [
  [110.7,0.2],[111.1,0.14],[111.9,0.08],[112.6,0.06],[113.9,0.2],[115.4,0.21],[115.9,0.11],[117.5,0.07],[118.6,0.06],[116.8,0.17],
  [111.5,0.36],[112.3,0.43],[112.5,0.36],[115.1,0.33],[115.8,0.36],[118.3,0.39],[119.5,0.31],[114.0,0.46],
  [111.1,0.67],[111.9,0.74],[113.1,0.72],[113.1,0.65],[113.7,0.76],[113.8,0.53],[118.3,0.52],[118.6,0.68],[118.6,0.77],[116.2,0.58],
  [110.5,0.81],[115.4,0.85],[115.6,0.86],[117.7,0.88],[111.6,0.99],[114.2,0.93],
  [111.1,1.14],[115.1,1.04],[118.5,1.07],[116.6,1.23],[113.4,1.28],[114.2,1.26],[116.3,1.31],[112.7,1.4],[114.9,1.48],
  [111.4,1.92],[118.7,1.89],[112.2,1.81],[117.5,1.79],[112.0,1.7],[111.8,1.73],[112.5,1.64],[113.0,1.57],[113.1,1.54],[119.1,1.56]
];
const mcMet120to130: Pt[] = [
  [120.0,0.06],[120.6,0.17],[122.0,0.14],[122.4,0.12],[122.4,0.09],[123.6,0.08],[125.2,0.1],[125.7,0.24],[128.8,0.18],[129.2,0.2],
  [121.7,0.32],[125.4,0.44],[127.1,0.44],[124.8,0.48],[129.2,0.4],
  [120.2,0.58],[120.0,0.55],[121.3,0.54],[122.6,0.55],[123.2,0.58],[124.5,0.58],[121.2,0.74],[122.4,0.74],[121.1,0.72],[122.4,0.7],[124.1,0.69],[127.5,0.71],[129.2,0.59],
  [123.6,0.88],[128.4,0.78],[123.0,0.95],[124.8,0.97],[124.8,0.94],
  [123.0,1.11],[124.0,1.11],[124.6,1.16],[128.8,1.09],
  [124.4,1.29],[126.8,1.44],[124.4,1.27],[126.6,1.54],
  [121.6,1.96],[121.7,1.92],[124.6,2.11],[128.7,1.93],[125.8,1.83],[120.1,1.77]
];
const mcMet130to140: Pt[] = [
  [130.5,0.09],[137.9,0.13],[131.3,0.36],[131.9,0.37],[134.2,0.27],[135.0,0.27],[139.3,0.31],[132.3,0.48],[133.1,0.46],[136.9,0.48],[136.6,0.44],
  [134.8,0.62],[136.0,0.7],[132.5,0.81],[137.4,1.04],[130.6,1.23],[130.4,1.34],[137.4,1.34],[132.7,1.6]
];

// Selected data events by dilepton channel: [missing ET (GeV), delta-phi]
const dataEE: Pt[] = [[4.6, 0.62], [18.7, 0.58], [22.3, 0.46], [46.4, 1.45]];
const dataMuMu: Pt[] = [[6.6, 0.55], [12.2, 0.21], [54.6, 1.05]];
const dataEMu: Pt[] = [[54.4, 0.11], [76.7, 1.35], [84.6, 0.98]];

// Boundary of the signal selection
const cutMet = [24, 24, 50, 50];
const cutDphi = [3.5, 0.35, 0.35, 0];

const metTicks = [0, 20, 40, 60, 80, 100, 120, 140];
const dphiTicks = [0, 0.5, 1, 1.5, 2, 2.5, 3, 3.5];

const SANS = "'Liberation Sans', Arial, Helvetica, sans-serif";
const SERIF = "'Liberation Serif', 'DejaVu Serif', serif";
const bold = (s: number) => `bold ${s}px ${SANS}`;
const reg = (s: number) => `${s}px ${SANS}`;
const sym = (s: number) => `${s}px ${SERIF}`;

type Seg = { t: string; font: string; size: number; dy?: number; slash?: boolean; bar?: boolean };

function segsWidth(ctx: CanvasRenderingContext2D, segs: Seg[]) {
  let w = 0;
  for (const s of segs) {
    ctx.font = s.font;
    w += ctx.measureText(s.t).width;
  }
  return w;
}

function drawSegs(ctx: CanvasRenderingContext2D, segs: Seg[], x: number, y: number) {
  let cx = x;
  for (const s of segs) {
    ctx.font = s.font;
    const w = ctx.measureText(s.t).width;
    const by = y + (s.dy || 0);
    ctx.fillText(s.t, cx, by);
    if (s.slash) {
      ctx.save();
      ctx.lineWidth = Math.max(1.2, s.size * 0.07);
      ctx.beginPath();
      ctx.moveTo(cx + w * 0.22, by + s.size * 0.08);
      ctx.lineTo(cx + w * 0.78, by - s.size * 0.8);
      ctx.stroke();
      ctx.restore();
    }
    if (s.bar) {
      const lw = ctx.measureText(s.t.slice(-1)).width;
      ctx.save();
      ctx.lineWidth = 1.2;
      ctx.beginPath();
      ctx.moveTo(cx + w - lw + 1, by - s.size * 0.86);
      ctx.lineTo(cx + w - 1, by - s.size * 0.86);
      ctx.stroke();
      ctx.restore();
    }
    cx += w;
  }
  return cx - x;
}

function starPath(ctx: CanvasRenderingContext2D, cx: number, cy: number, R: number, r: number) {
  ctx.beginPath();
  for (let i = 0; i < 10; i++) {
    const a = -Math.PI / 2 + (i * Math.PI) / 5;
    const rad = i % 2 === 0 ? R : r;
    const px = cx + rad * Math.cos(a);
    const py = cy + rad * Math.sin(a);
    if (i === 0) ctx.moveTo(px, py);
    else ctx.lineTo(px, py);
  }
  ctx.closePath();
}

function makeStar(R: number) {
  const c = document.createElement("canvas");
  const s = Math.ceil(R * 2 + 2);
  c.width = s;
  c.height = s;
  const g = c.getContext("2d")!;
  g.fillStyle = "#ff0000";
  starPath(g, s / 2, s / 2 + R * 0.1, R, R * 0.42);
  g.fill();
  return c;
}

const toXY = (pts: Pt[]) => pts.map(([x, y]) => ({ x, y }));

export default function App() {
  const ref = useRef<HTMLCanvasElement | null>(null);

  useEffect(() => {
    const canvas = ref.current;
    if (!canvas) return;
    const starImg = makeStar(11);

    const mcAll: Pt[] = [
      ...mcMet0to10, ...mcMet10to20, ...mcMet20to30, ...mcMet30to40, ...mcMet40to50,
      ...mcMet50to60, ...mcMet60to70, ...mcMet70to80, ...mcMet80to90, ...mcMet90to100,
      ...mcMet100to110, ...mcMet110to120, ...mcMet120to130, ...mcMet130to140,
    ];

    const legendRows: { segs: Seg[]; kind: string }[] = [
      { segs: [{ t: "MC tt", font: reg(23), size: 23, bar: true }], kind: "mc" },
      { segs: [{ t: "Data ee", font: reg(23), size: 23 }], kind: "ee" },
      { segs: [{ t: "Data ", font: reg(23), size: 23 }, { t: "μμ", font: sym(23), size: 23 }], kind: "mm" },
      { segs: [{ t: "Data e", font: reg(23), size: 23 }, { t: "μ", font: sym(23), size: 23 }], kind: "em" },
    ];

    const drawMarker = (ctx: CanvasRenderingContext2D, kind: string, x: number, y: number) => {
      if (kind === "mc") {
        ctx.fillStyle = "#ffff00";
        ctx.beginPath();
        ctx.arc(x, y, 8, 0, Math.PI * 2);
        ctx.fill();
      } else if (kind === "ee") {
        ctx.fillStyle = "#000";
        ctx.beginPath();
        ctx.arc(x, y, 7.5, 0, Math.PI * 2);
        ctx.fill();
      } else if (kind === "mm") {
        ctx.fillStyle = "#0000ff";
        ctx.fillRect(x - 8, y - 8, 16, 16);
      } else {
        ctx.fillStyle = "#ff0000";
        starPath(ctx, x, y + 1, 11, 4.6);
        ctx.fill();
      }
    };

    const frame = {
      id: "frameAndTicks",
      beforeDatasetsDraw(chart: any) {
        const { ctx, chartArea: a, scales } = chart;
        const xs = scales.x;
        const ys = scales.y;
        ctx.save();
        ctx.strokeStyle = "#000";
        ctx.lineWidth = 1;
        ctx.strokeRect(a.left + 0.5, a.top + 0.5, a.right - a.left, a.bottom - a.top);
        ctx.lineWidth = 2;
        ctx.beginPath();
        ctx.moveTo(a.left, a.top);
        ctx.lineTo(a.left, a.bottom);
        ctx.lineTo(a.right, a.bottom);
        ctx.stroke();
        ctx.lineWidth = 1.3;
        ctx.beginPath();
        for (let i = 0; i <= 28; i++) {
          const v = i * 5;
          const px = Math.round(xs.getPixelForValue(v)) + 0.5;
          const len = i % 4 === 0 ? 16 : 8;
          ctx.moveTo(px, a.bottom);
          ctx.lineTo(px, a.bottom - len);
        }
        for (let i = 0; i <= 35; i++) {
          const v = i / 10;
          const py = Math.round(ys.getPixelForValue(v)) + 0.5;
          const len = i % 5 === 0 ? 16 : 8;
          ctx.moveTo(a.left, py);
          ctx.lineTo(a.left + len, py);
        }
        ctx.stroke();
        ctx.restore();
      },
      afterDraw(chart: any) {
        const { ctx, chartArea: a } = chart;
        ctx.save();
        ctx.fillStyle = "#000";
        ctx.strokeStyle = "#000";
        ctx.textBaseline = "alphabetic";
        ctx.textAlign = "left";

        // title box
        ctx.fillStyle = "#fff";
        ctx.fillRect(43, 18, 618, 40);
        ctx.strokeStyle = "#555";
        ctx.lineWidth = 1;
        ctx.strokeRect(43.5, 18.5, 618, 40);
        ctx.fillStyle = "#000";
        ctx.strokeStyle = "#000";
        const title: Seg[] = [
          { t: "CDF Run II Preliminary -  ", font: bold(23), size: 23 },
          { t: "Δφ", font: sym(23), size: 23 },
          { t: " vs ", font: bold(23), size: 23 },
          { t: "E", font: bold(23), size: 23, slash: true },
          { t: "T", font: bold(14), size: 14, dy: 5 },
          { t: " N", font: bold(23), size: 23 },
          { t: "jets", font: bold(14), size: 14, dy: 7 },
          { t: "≥", font: sym(23), size: 23 },
          { t: "2, After all cuts", font: bold(23), size: 23 },
        ];
        const tw = segsWidth(ctx, title);
        drawSegs(ctx, title, 352 - tw / 2, 46);

        // x axis title
        const xt: Seg[] = [
          { t: "E", font: bold(25), size: 25, slash: true },
          { t: "T", font: bold(16), size: 16, dy: 7 },
          { t: " (GeV)", font: bold(25), size: 25 },
        ];
        const xw = segsWidth(ctx, xt);
        drawSegs(ctx, xt, (a.left + a.right) / 2 + 4 - xw / 2, 684);

        // y axis title
        const yt: Seg[] = [
          { t: "Δφ", font: sym(24), size: 24 },
          { t: " (", font: bold(24), size: 24 },
          { t: "E", font: bold(24), size: 24, slash: true },
          { t: "T", font: bold(15), size: 15, dy: 6 },
          { t: ",closest l,jet)", font: bold(24), size: 24 },
        ];
        const yw = segsWidth(ctx, yt);
        ctx.save();
        ctx.translate(36, 357);
        ctx.rotate(-Math.PI / 2);
        drawSegs(ctx, yt, -yw / 2, 0);
        ctx.restore();

        // legend with drop shadow
        const lx = 497, ly = 96, lw = 146, lh = 173;
        ctx.fillStyle = "#000";
        ctx.fillRect(lx + 8, ly + 6, lw - 3, lh - 1);
        ctx.fillStyle = "#fff";
        ctx.fillRect(lx, ly, lw, lh);
        ctx.strokeStyle = "#000";
        ctx.lineWidth = 1;
        ctx.strokeRect(lx + 0.5, ly + 0.5, lw, lh);
        legendRows.forEach((row, i) => {
          const cy = 121 + i * 40;
          drawMarker(ctx, row.kind, 515, cy);
          ctx.fillStyle = "#000";
          ctx.strokeStyle = "#000";
          ctx.save();
          ctx.translate(532, cy + 8);
          ctx.scale(1.13, 1);
          drawSegs(ctx, row.segs, 0, 0);
          ctx.restore();
        });
        ctx.restore();
      },
    };

    const chart = new Chart(canvas, {
      type: "scatter",
      data: {
        datasets: [
          {
            label: "Data eμ",
            data: toXY(dataEMu),
            pointStyle: starImg as any,
            pointRadius: 11,
            order: 1,
          },
          {
            label: "Data μμ",
            data: toXY(dataMuMu),
            pointStyle: "rect",
            pointRadius: 12,
            backgroundColor: "#0000ff",
            borderWidth: 0,
            order: 2,
          },
          {
            label: "Data ee",
            data: toXY(dataEE),
            pointStyle: "circle",
            pointRadius: 8,
            backgroundColor: "#000000",
            borderWidth: 0,
            order: 3,
          },
          {
            label: "cut",
            type: "line",
            data: cutMet.map((x, i) => ({ x, y: cutDphi[i] })),
            borderColor: "#000",
            borderWidth: 2,
            pointRadius: 0,
            fill: false,
            tension: 0,
            order: 4,
          } as any,
          {
            label: "MC tt̄",
            data: toXY(mcAll),
            pointStyle: "circle",
            pointRadius: 3.2,
            backgroundColor: "#ffff00",
            borderWidth: 0,
            order: 5,
          },
        ],
      },
      options: {
        responsive: false,
        animation: false,
        events: [],
        layout: { padding: { top: 74, right: 22, left: 0, bottom: 0 } },
        plugins: { legend: { display: false }, tooltip: { enabled: false }, title: { display: false } },
        scales: {
          x: {
            type: "linear",
            min: 0,
            max: 140,
            grid: { display: false, drawTicks: false },
            border: { display: false },
            afterBuildTicks: (s: any) => {
              s.ticks = metTicks.map((v) => ({ value: v }));
            },
            afterFit: (s: any) => {
              s.height = 63;
            },
            ticks: {
              autoSkip: false,
              maxRotation: 0,
              padding: 6,
              color: "#000",
              font: { family: SANS, size: 25, weight: "bold" },
              callback: (v: any) => String(v),
            },
          },
          y: {
            type: "linear",
            min: 0,
            max: 3.5,
            grid: { display: false, drawTicks: false },
            border: { display: false },
            afterBuildTicks: (s: any) => {
              s.ticks = dphiTicks.map((v) => ({ value: v }));
            },
            afterFit: (s: any) => {
              s.width = 83;
            },
            ticks: {
              autoSkip: false,
              padding: 5,
              color: "#000",
              font: { family: SANS, size: 25, weight: "bold" },
              callback: (v: any) => String(v),
            },
          },
        },
      },
      plugins: [frame],
    });

    return () => chart.destroy();
  }, []);

  return (
    <div style={{ position: "fixed", left: 0, top: 0, width: 685, height: 690, background: "#fff" }}>
      <canvas ref={ref} width={685} height={690} style={{ display: "block", width: 685, height: 690 }} />
    </div>
  );
}
